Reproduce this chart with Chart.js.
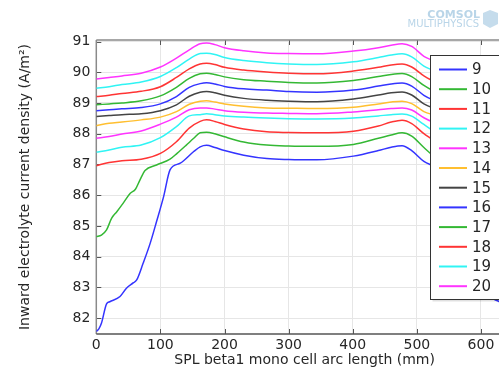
<!DOCTYPE html>
<html><head><meta charset="utf-8">
<script src="https://cdn.jsdelivr.net/npm/chart.js@4/dist/chart.umd.min.js"></script>
<style>
html,body{margin:0;padding:0;background:#fff;overflow:hidden;width:499px;height:371px}
canvas{display:block}
</style>
</head><body>
<canvas id="c" width="516" height="371" style="width:516px;height:371px"></canvas>
<script>
// ---- data ----
const seriesLabels = ['9','10','11','12','13','14','15','16','17','18','19','20'];
const seriesColors = ['#3434ff','#34b834','#ff3434','#30f4f4','#ff34ff','#ffbf30','#444444','#3434ff','#34b834','#ff3434','#30f4f4','#ff34ff'];

const x9 = [0,4,8,16,21,37,47,58,63,73,84,94,105,115,131,152,162,172,185,200,230,266,300,344,401,440,460,477,492,511,525,535,545,556,566,577,587,592,603,613,629,634,642,646,650];
const y9 = [81.56,81.65,81.83,82.46,82.53,82.7,82.97,83.15,83.24,83.78,84.43,85.14,85.95,86.82,87.04,87.42,87.57,87.62,87.55,87.45,87.3,87.19,87.16,87.15,87.27,87.45,87.56,87.61,87.45,87.1,86.96,86.82,85.95,85.14,84.43,83.78,83.24,83.15,82.97,82.7,82.53,82.46,81.83,81.65,81.56];

const x10 = [0,8,16,24,32,42,53,61,68,76,94,115,126,140,152,162,172,185,200,230,266,300,344,401,440,460,477,492,511,525,540,556,574,582,589,597,608,618,626,634,642,650];
const y10 = [84.65,84.7,84.87,85.25,85.46,85.74,86.06,86.19,86.49,86.8,86.98,87.17,87.36,87.62,87.85,88.03,88.05,88.0,87.9,87.73,87.63,87.6,87.59,87.65,87.85,87.96,88.03,87.92,87.55,87.3,87.12,86.98,86.8,86.49,86.19,86.06,85.74,85.46,85.25,84.87,84.7,84.65];

const xCommon = [0,20,40,70,100,125,145,162,172,185,200,230,266,300,344,401,440,460,477,492,511,525,540,560,580,600,620,650];
const y11 = [86.96,87.06,87.12,87.17,87.36,87.74,88.18,88.4,88.45,88.4,88.3,88.15,88.06,88.04,88.03,88.08,88.25,88.38,88.44,88.33,88.0,87.8,87.55,87.32,87.18,87.14,87.08,86.96];
const y12 = [87.4,87.47,87.56,87.63,87.87,88.23,88.58,88.62,88.65,88.62,88.58,88.54,88.51,88.49,88.48,88.51,88.58,88.62,88.64,88.57,88.3,88.1,87.93,87.8,87.65,87.6,87.52,87.4];
const y13 = [87.85,87.91,87.99,88.09,88.31,88.54,88.78,88.84,88.84,88.8,88.75,88.7,88.67,88.66,88.65,88.71,88.78,88.82,88.84,88.77,88.52,88.38,88.27,88.15,88.09,88.02,87.95,87.85];
const y14 = [88.26,88.34,88.38,88.45,88.54,88.72,88.96,89.06,89.07,89.03,88.97,88.89,88.84,88.83,88.82,88.86,88.97,89.03,89.06,88.98,88.72,88.62,88.54,88.47,88.45,88.4,88.35,88.26];
const y15 = [88.56,88.59,88.62,88.65,88.75,88.94,89.22,89.35,89.37,89.33,89.25,89.15,89.09,89.06,89.04,89.13,89.26,89.33,89.36,89.26,88.97,88.84,88.74,88.68,88.65,88.63,88.6,88.56];
const y16 = [88.75,88.78,88.81,88.85,88.97,89.21,89.51,89.63,89.66,89.62,89.54,89.46,89.42,89.37,89.35,89.42,89.55,89.62,89.65,89.55,89.25,89.1,88.98,88.9,88.85,88.82,88.79,88.75];
const y17 = [88.94,88.97,89.0,89.07,89.23,89.51,89.8,89.95,89.97,89.93,89.85,89.76,89.71,89.67,89.65,89.73,89.86,89.93,89.96,89.86,89.57,89.4,89.26,89.14,89.07,89.02,88.98,88.94];
const y18 = [89.21,89.25,89.31,89.38,89.53,89.83,90.11,90.27,90.29,90.25,90.16,90.07,90.01,89.97,89.95,90.04,90.16,90.24,90.27,90.17,89.88,89.72,89.57,89.45,89.38,89.33,89.27,89.21];
const y19 = [89.48,89.53,89.6,89.68,89.86,90.15,90.43,90.61,90.62,90.58,90.48,90.38,90.31,90.27,90.25,90.34,90.48,90.56,90.6,90.5,90.2,90.06,89.9,89.76,89.68,89.62,89.55,89.48];
const y20 = [89.78,89.83,89.88,89.97,90.17,90.46,90.73,90.93,90.95,90.9,90.8,90.7,90.63,90.61,90.6,90.69,90.8,90.88,90.93,90.84,90.52,90.38,90.22,90.07,89.97,89.9,89.85,89.78];

const xTicks = [0,100,200,300,400,500,600];
const yTicks = [82,83,84,85,86,87,88,89,90,91];

const xTitle = 'SPL beta1 mono cell arc length (mm)';
const yTitle = 'Inward electrolyte current density (A/m\u00B2)';

// ---- build ----
const seriesX = [x9, x10, xCommon, xCommon, xCommon, xCommon, xCommon, xCommon, xCommon, xCommon, xCommon, xCommon];
const seriesY = [y9, y10, y11, y12, y13, y14, y15, y16, y17, y18, y19, y20];

const datasets = seriesLabels.map((lab, i) => ({
  label: lab,
  data: seriesX[i].map((xv, j) => ({x: xv, y: seriesY[i][j]})),
  borderColor: seriesColors[i],
  backgroundColor: seriesColors[i],
  borderWidth: 1.5,
  pointRadius: 0,
  fill: false,
  cubicInterpolationMode: 'monotone'
}));

const FONT = 'DejaVu Sans';
const TXT = '#262626';

const framePlugin = {
  id: 'frame',
  beforeDatasetsDraw(chart) {
    const {ctx, chartArea: a, scales: {x, y}} = chart;
    ctx.save();
    ctx.lineWidth = 1;
    ctx.strokeStyle = '#555';
    ctx.beginPath();
    xTicks.forEach(v => {
      const px = Math.round(x.getPixelForValue(v)) + 0.5;
      ctx.moveTo(px, a.bottom); ctx.lineTo(px, a.bottom - 5);
      ctx.moveTo(px, a.top); ctx.lineTo(px, a.top + 5);
    });
    yTicks.forEach(v => {
      const py = Math.round(y.getPixelForValue(v)) + 0.5;
      ctx.moveTo(a.left, py); ctx.lineTo(a.left + 5, py);
    });
    ctx.stroke();
    ctx.lineWidth = 1.5;
    ctx.strokeStyle = '#8a8a8a';
    ctx.beginPath();
    ctx.moveTo(a.left, a.top); ctx.lineTo(a.right, a.top);
    ctx.moveTo(a.left, a.top); ctx.lineTo(a.left, a.bottom);
    ctx.stroke();
    ctx.strokeStyle = '#555';
    ctx.beginPath();
    ctx.moveTo(a.left, a.bottom); ctx.lineTo(a.right, a.bottom);
    ctx.stroke();
    ctx.restore();
  },
  afterDraw(chart) {
    const {ctx} = chart;
    ctx.save();
    // legend box
    const bx = 430.5, by = 55.5, bw = 78, bh = 244;
    ctx.fillStyle = 'rgba(0,0,0,0.12)';
    ctx.fillRect(bx + 2, by + 2, bw, bh);
    ctx.fillStyle = '#fff';
    ctx.fillRect(bx, by, bw, bh);
    ctx.strokeStyle = '#333';
    ctx.lineWidth = 1;
    ctx.strokeRect(bx, by, bw, bh);
    ctx.font = '15px "' + FONT + '"';
    ctx.textBaseline = 'middle';
    ctx.textAlign = 'left';
    chart.data.datasets.forEach((ds, i) => {
      const cy = 69.5 + i * 19.7;
      ctx.strokeStyle = ds.borderColor;
      ctx.lineWidth = 2;
      ctx.beginPath();
      ctx.moveTo(439, cy); ctx.lineTo(467, cy);
      ctx.stroke();
      ctx.fillStyle = TXT;
      ctx.fillText(ds.label, 472, cy + 1);
    });
    // watermark
    ctx.fillStyle = '#b9d5e8';
    ctx.textAlign = 'right';
    ctx.textBaseline = 'alphabetic';
    ctx.font = 'bold 11px "' + FONT + '"';
    ctx.fillText('COMSOL', 480, 18);
    ctx.font = '10px "' + FONT + '"';
    ctx.fillText('MULTIPHYSICS', 479, 27);
    ctx.fillStyle = '#c5dcec';
    ctx.beginPath();
    ctx.moveTo(490, 10); ctx.lineTo(498, 13); ctx.lineTo(498, 24); ctx.lineTo(490, 28); ctx.lineTo(483, 24); ctx.lineTo(483, 13);
    ctx.closePath();
    ctx.fill();
    ctx.restore();
  }
};

new Chart(document.getElementById('c'), {
  type: 'line',
  data: {datasets},
  options: {
    responsive: false,
    animation: false,
    devicePixelRatio: 1,
    layout: {padding: {top: 40, right: 3, bottom: 0, left: 0}},
    plugins: {legend: {display: false}, tooltip: {enabled: false}},
    scales: {
      x: {
        type: 'linear', min: 0, max: 650,
        afterBuildTicks: s => { s.ticks = xTicks.map(v => ({value: v})); },
        afterFit: s => { s.height = 37; },
        ticks: {font: {family: FONT, size: 14}, color: TXT, padding: 3, maxRotation: 0, autoSkip: false},
        grid: {color: '#e6e6e6', drawTicks: false, lineWidth: 1},
        border: {display: false},
        title: {display: true, text: xTitle, font: {family: FONT, size: 14}, color: TXT, padding: {top: 0, bottom: 2}}
      },
      y: {
        type: 'linear', min: 81.48, max: 91.05,
        afterBuildTicks: s => { s.ticks = yTicks.map(v => ({value: v})); },
        afterFit: s => { s.width = 96.3; },
        ticks: {font: {family: FONT, size: 14}, color: TXT, padding: 6},
        grid: {color: '#e6e6e6', drawTicks: false, lineWidth: 1},
        border: {display: false},
        title: {display: true, text: yTitle, font: {family: FONT, size: 14}, color: TXT, padding: {top: 17, bottom: 0}}
      }
    }
  },
  plugins: [framePlugin]
});
</script>
</body></html>
